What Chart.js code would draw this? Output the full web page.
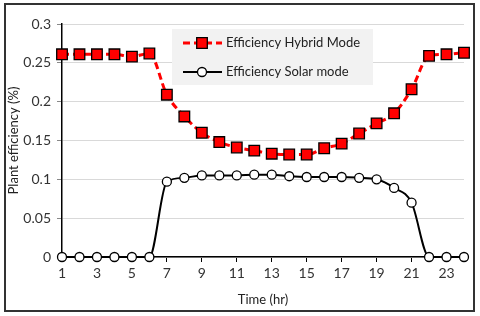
<!DOCTYPE html>
<html>
<head>
<meta charset="utf-8">
<script src="https://cdn.jsdelivr.net/npm/chart.js@4/dist/chart.umd.min.js"></script>
<style>
  html, body { margin: 0; padding: 0; background: #fff; }
  #wrap { width: 480px; height: 316px; }
</style>
</head>
<body>
<div id="wrap"><canvas id="c" width="480" height="316"></canvas></div>
<script>
const hours  = [1, 2, 3, 4, 5, 6, 7, 8, 9, 10, 11, 12, 13, 14, 15, 16, 17, 18, 19, 20, 21, 22, 23, 24];
const hybrid = [0.261, 0.261, 0.261, 0.261, 0.258, 0.262, 0.209, 0.181, 0.160, 0.148, 0.141, 0.137,
                0.133, 0.132, 0.132, 0.140, 0.146, 0.159, 0.172, 0.185, 0.216, 0.259, 0.261, 0.263];
const solar  = [0, 0, 0, 0, 0, 0, 0.097, 0.102, 0.105, 0.105, 0.105, 0.106,
                0.106, 0.104, 0.103, 0.103, 0.103, 0.102, 0.100, 0.089, 0.070, 0, 0, 0];
const xTicks = [1, 3, 5, 7, 9, 11, 13, 15, 17, 19, 21, 23];
const yTicks = [0, 0.05, 0.1, 0.15, 0.2, 0.25, 0.3];

const FONT = 'Lato, "Liberation Sans", sans-serif';

// legend box + outer frame, drawn by hand
const decor = {
  id: 'decor',
  afterDraw(chart) {
    const ctx = chart.ctx;
    ctx.save();
    ctx.strokeStyle = '#333';
    ctx.lineWidth = 2;
    ctx.strokeRect(5, 4, 469, 307);

    ctx.fillStyle = '#f2f2f2';
    ctx.fillRect(172, 29, 201, 56);
    const rows = [43, 72];
    chart.data.datasets.forEach((ds, i) => {
      const y = rows[i];
      ctx.beginPath();
      ctx.strokeStyle = ds.borderColor;
      ctx.lineWidth = ds.borderWidth;
      ctx.setLineDash(ds.borderDash || []);
      ctx.moveTo(183, y);
      ctx.lineTo(222, y);
      ctx.stroke();
      ctx.setLineDash([]);
      ctx.fillStyle = ds.pointBackgroundColor;
      ctx.strokeStyle = ds.pointBorderColor;
      ctx.lineWidth = ds.pointBorderWidth;
      ctx.beginPath();
      if (ds.pointStyle === 'rect') {
        const s = Math.SQRT1_2 * ds.pointRadius;
        ctx.rect(202 - s, y - s, 2 * s, 2 * s);
      } else {
        ctx.arc(202, y, ds.pointRadius, 0, Math.PI * 2);
      }
      ctx.fill();
      ctx.stroke();
      ctx.fillStyle = '#222';
      ctx.font = '13px ' + FONT;
      ctx.textBaseline = 'middle';
      ctx.fillText(ds.label, 226, y);
    });
    ctx.restore();
  }
};

new Chart(document.getElementById('c'), {
  type: 'line',
  data: {
    datasets: [{
      label: 'Efficiency Hybrid Mode',
      data: hours.map((h, i) => ({ x: h, y: hybrid[i] })),
      borderColor: '#ff0000',
      borderWidth: 3,
      borderDash: [7, 4],
      cubicInterpolationMode: 'monotone',
      pointStyle: 'rect',
      pointRadius: 7.5,
      pointBackgroundColor: '#ff0000',
      pointBorderColor: '#000',
      pointBorderWidth: 1.3,
      clip: false
    }, {
      label: 'Efficiency Solar mode',
      data: hours.map((h, i) => ({ x: h, y: solar[i] })),
      borderColor: '#000',
      borderWidth: 2,
      cubicInterpolationMode: 'monotone',
      pointStyle: 'circle',
      pointRadius: 4.5,
      pointBackgroundColor: '#fff',
      pointBorderColor: '#000',
      pointBorderWidth: 1.3,
      clip: false
    }]
  },
  options: {
    responsive: false,
    animation: false,
    layout: { padding: { left: 6, right: 16, top: 24, bottom: 0 } },
    plugins: { legend: { display: false }, tooltip: { enabled: false } },
    scales: {
      x: {
        type: 'linear',
        min: 1,
        max: 24,
        afterBuildTicks: s => { s.ticks = xTicks.map(v => ({ value: v })); },
        afterFit: s => { s.height = 59; },
        grid: { drawOnChartArea: false, tickLength: 5, tickColor: '#000', tickWidth: 1 },
        border: { color: '#000', width: 1.5 },
        ticks: { color: '#333', font: { family: FONT, size: 14 }, padding: 3, maxRotation: 0 },
        title: { display: true, text: 'Time (hr)', color: '#222', font: { family: FONT, size: 13 }, padding: { top: 4, bottom: 8 } }
      },
      y: {
        min: 0,
        max: 0.3,
        afterBuildTicks: s => { s.ticks = yTicks.map(v => ({ value: v })); },
        afterFit: s => { s.width = 56; },
        grid: { color: '#d9d9d9', tickLength: 5, tickColor: '#888', lineWidth: 1 },
        border: { color: '#000', width: 1.5 },
        ticks: {
          color: '#333', font: { family: FONT, size: 14 }, padding: 6,
          callback: v => String(+v.toFixed(2))
        },
        title: { display: true, text: 'Plant efficiency (%)', color: '#222', font: { family: FONT, size: 13 }, padding: { top: 0, bottom: 2 } }
      }
    }
  },
  plugins: [decor]
});
</script>
</body>
</html>
